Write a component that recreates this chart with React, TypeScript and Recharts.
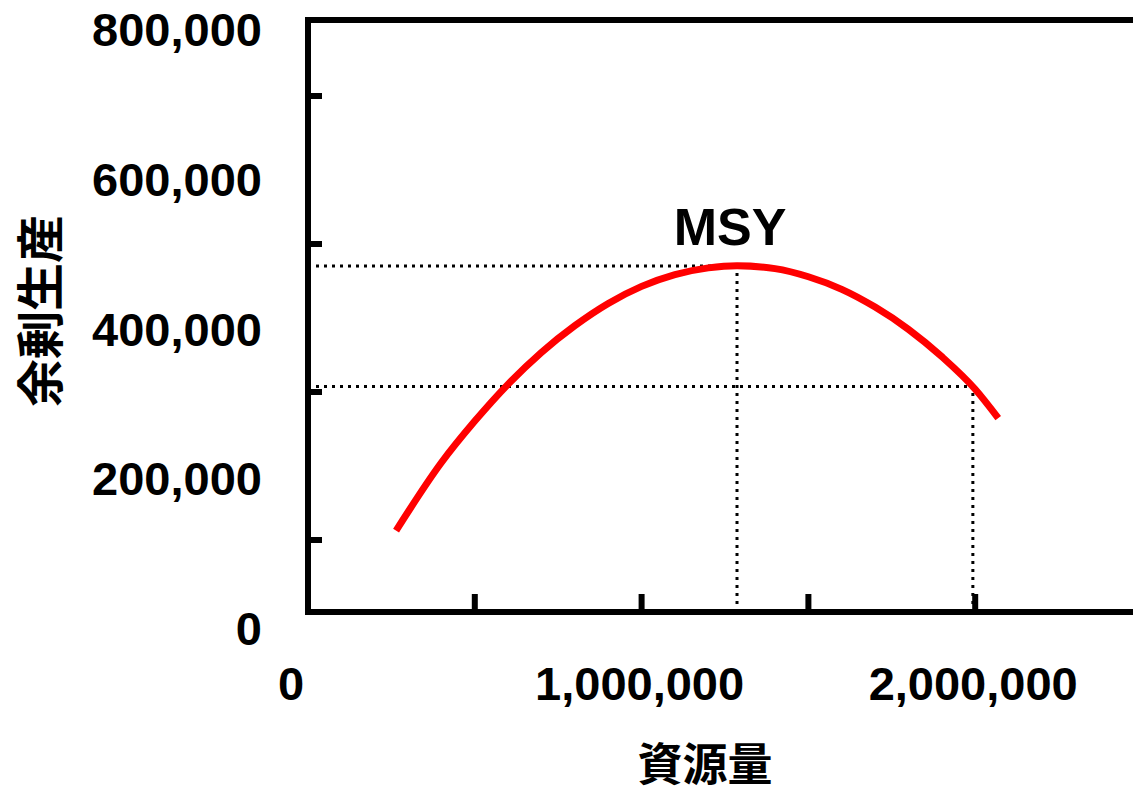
import React from 'react';
import { LineChart, Line, XAxis, YAxis, ReferenceLine, ReferenceDot } from 'recharts';

// 資源量 (biomass) and 余剰生産 (surplus production)
const biomass = [264000, 400000, 500000, 600000, 700000, 800000, 900000, 1000000, 1100000, 1200000, 1286000, 1400000, 1500000, 1600000, 1700000, 1800000, 1900000, 2000000, 2069000];
const surplus = [110000, 202000, 258000, 308000, 351000, 387000, 417000, 440000, 456000, 465000, 468000, 464000, 453000, 436000, 412000, 382000, 345000, 301000, 262000];

const xTicks = [0, 500000, 1000000, 1500000, 2000000, 2500000];
const xTickLabels = ['0', '', '1,000,000', '', '2,000,000', ''];
const yTicks = [0, 100000, 200000, 300000, 400000, 500000, 600000, 700000, 800000];
const yTickLabels = ['0', '', '200,000', '', '400,000', '', '600,000', '', '800,000'];

const msyBiomass = 1286000;
const msyValue = 467600;
const refBiomass = 1993000;
const refValue = 304700;

const data = biomass.map((b, i) => ({ x: b, y: surplus[i] }));

const FONT = '"Liberation Sans", Arial, sans-serif';
const CJK = '"Noto Sans CJK JP", "Noto Sans CJK SC", sans-serif';

const YTick = (props: any) => {
  const { x, y, payload } = props;
  const idx = yTicks.indexOf(payload.value);
  const label = yTickLabels[idx];
  if (label) {
    const dy = 26 + 7 * (1 - payload.value / 800000);
    return (
      <text x={x - 46} y={y + dy} textAnchor="end" fontFamily={FONT} fontWeight="bold" fontSize={47} fill="#000">
        {label}
      </text>
    );
  }
  return <line x1={x} y1={y + 2} x2={x + 14} y2={y + 2} stroke="#000" strokeWidth={6} />;
};

const XTick = (props: any) => {
  const { x, y, payload } = props;
  const idx = xTicks.indexOf(payload.value);
  const label = xTickLabels[idx];
  return (
    <g>
      {payload.value > 0 && <line x1={x} y1={y} x2={x} y2={y - 18} stroke="#000" strokeWidth={6} />}
      {label && (
        <text x={payload.value === 0 ? x - 17 : x - 2} y={y + 88} textAnchor="middle" fontFamily={FONT} fontWeight="bold" fontSize={47} fill="#000">
          {label}
        </text>
      )}
    </g>
  );
};

const YTitle = () => (
  <text x={37} y={311} transform="rotate(-90 37 311)" textAnchor="middle" dominantBaseline="central" fontFamily={CJK} fontWeight="bold" fontSize={48} fill="#000">
    余剰生産
  </text>
);

const XTitle = () => (
  <text x={705} y={761} textAnchor="middle" dominantBaseline="central" fontFamily={CJK} fontWeight="bold" fontSize={45} fill="#000">
    資源量
  </text>
);

const MsyLabel = (props: any) => (
  <text x={props.cx - 7} y={props.cy - 21} textAnchor="middle" fontFamily={FONT} fontWeight="bold" fontSize={52} fill="#000">
    MSY
  </text>
);

const dotted = { stroke: '#000', strokeWidth: 3, strokeDasharray: '3 5' };

export default function App() {
  return (
    <div style={{ position: 'absolute', left: 0, top: 0, width: 1133, height: 795, overflow: 'hidden', background: '#fff' }}>
      <LineChart width={1150} height={795} data={data} margin={{ top: 20, right: 8, left: 0, bottom: 0 }}>
        <XAxis
          type="number"
          dataKey="x"
          domain={[0, 2500000]}
          ticks={xTicks}
          interval={0}
          tickSize={0}
          tickMargin={0}
          tickLine={false}
          height={183}
          axisLine={{ stroke: '#000', strokeWidth: 6, strokeLinecap: 'square' }}
          tick={<XTick />}
          label={<XTitle />}
        />
        <YAxis
          type="number"
          dataKey="y"
          domain={[0, 800000]}
          ticks={yTicks}
          interval={0}
          tickSize={0}
          tickMargin={0}
          tickLine={false}
          width={308}
          axisLine={{ stroke: '#000', strokeWidth: 6, strokeLinecap: 'square' }}
          tick={<YTick />}
          label={<YTitle />}
        />
        <ReferenceLine y={800000} stroke="#000" strokeWidth={6} strokeLinecap="square" />
        <ReferenceLine segment={[{ x: 0, y: msyValue }, { x: msyBiomass, y: msyValue }]} {...dotted} />
        <ReferenceLine segment={[{ x: msyBiomass, y: 0 }, { x: msyBiomass, y: msyValue }]} {...dotted} />
        <ReferenceLine segment={[{ x: 0, y: refValue }, { x: refBiomass, y: refValue }]} {...dotted} />
        <ReferenceLine segment={[{ x: refBiomass, y: 0 }, { x: refBiomass, y: refValue }]} {...dotted} />
        <Line type="monotone" dataKey="y" stroke="#ff0000" strokeWidth={7} dot={false} isAnimationActive={false} />
        <ReferenceDot x={msyBiomass} y={msyValue} r={0} shape={<MsyLabel />} />
      </LineChart>
    </div>
  );
}
